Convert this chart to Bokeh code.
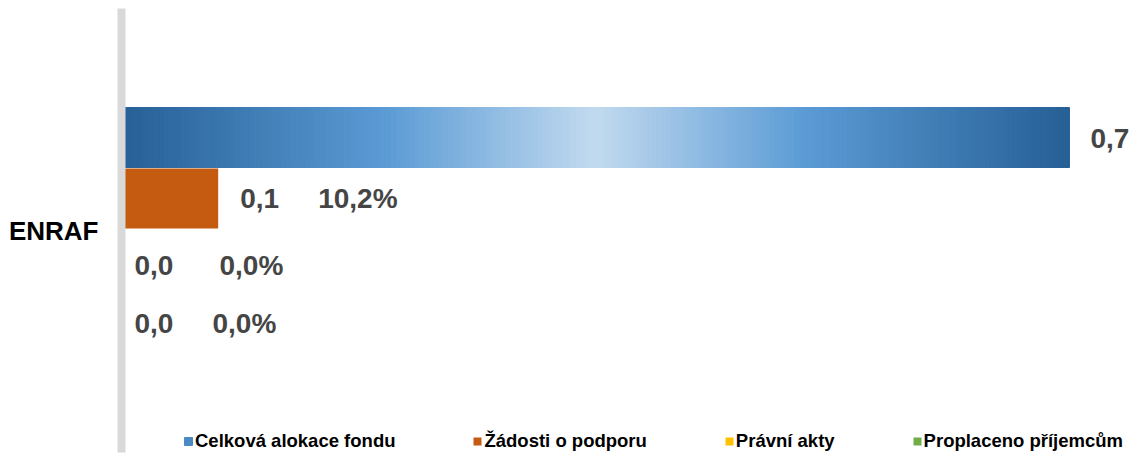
import numpy as np
from bokeh.plotting import figure
from bokeh.models import ColumnDataSource, FactorRange, Range1d, Legend, LegendItem
from bokeh.transform import dodge
from bokeh.core.properties import value as pval
from bokeh.embed import file_html
from bokeh.resources import INLINE

# ---------------- data ----------------
categories = ["ENRAF"]
series_names = ["Celková alokace fondu", "Žádosti o podporu", "Právní akty", "Proplaceno příjemcům"]
series_values = [0.70, 0.0714, 0.0, 0.0]
series_colors = ["#5b9bd5", "#c55a11", "#ffc000", "#70ad47"]

value_labels = [f"{v:.1f}".replace(".", ",") for v in series_values]
pct_labels = [None] + [f"{v / series_values[0] * 100:.1f}%".replace(".", ",") for v in series_values[1:]]

# ---------------- style / layout ----------------
FONT = pval("Liberation Sans")
FRAME_H = 444  # frame from y=8 to y=452
unit = 1.0 / FRAME_H
step = 61 * unit
bar_h = 60 * unit
center_shift = 1.5 * unit
offsets = [center_shift + k * step for k in (1.5, 0.5, -0.5, -1.5)]
val_dx = [21, 22, 13, 13]
val_dy = [1, 0, 6, 3]
pct_dx = [0, 100, 98, 91]
label_color = "#454545"

grad_stops = [(0.0, "#265f96"), (0.28, "#5b9bd5"), (0.5, "#c2daef"), (0.72, "#5b9bd5"), (1.0, "#265f96")]


def hex2rgb(h):
    h = h.lstrip("#")
    return np.array([int(h[i:i + 2], 16) for i in (0, 2, 4)], dtype=float)


def grad_color(t):
    for (t0, c0), (t1, c1) in zip(grad_stops[:-1], grad_stops[1:]):
        if t0 <= t <= t1:
            f = (t - t0) / (t1 - t0) if t1 > t0 else 0
            c = hex2rgb(c0) * (1 - f) + hex2rgb(c1) * f
            return "#%02x%02x%02x" % tuple(int(round(x)) for x in c)
    return grad_stops[-1][1]


p = figure(
    width=1136, height=456,
    x_range=Range1d(0, 0.7495),
    y_range=FactorRange(*categories, range_padding=0),
    x_axis_location=None,
    output_backend="svg", toolbar_location=None,
    min_border_left=121, min_border_right=0, min_border_top=8, min_border_bottom=4,
)
p.outline_line_color = None
p.xgrid.visible = False
p.ygrid.visible = False
p.background_fill_color = "white"
p.border_fill_color = "white"

renderers = []

# Blue gradient bar (split into slices along the value)
N = 200
v0 = series_values[0]
edges = np.linspace(0, v0, N + 1)
grad_src = ColumnDataSource(dict(
    cat=[categories[0]] * N,
    left=edges[:-1],
    right=edges[1:],
    color=[grad_color((i + 0.5) / N) for i in range(N)],
))
r0 = p.hbar(y=dodge("cat", offsets[0], range=p.y_range), left="left", right="right", height=bar_h,
            fill_color="color", line_color="color", line_width=1, source=grad_src)
renderers.append(r0)

for i in range(1, 4):
    src = ColumnDataSource(dict(cat=categories, val=[series_values[i]]))
    r = p.hbar(y=dodge("cat", offsets[i], range=p.y_range), left=0, right="val", height=bar_h,
               fill_color=series_colors[i], line_color=None, source=src)
    renderers.append(r)

# Labels
for i in range(4):
    src = ColumnDataSource(dict(cat=categories, val=[series_values[i]], lab=[value_labels[i]]))
    p.text(x="val", y=dodge("cat", offsets[i], range=p.y_range), text="lab", source=src,
           text_font=FONT, text_font_style="bold", text_font_size="28px", text_color=label_color,
           text_align="left", text_baseline="middle", x_offset=val_dx[i], y_offset=val_dy[i])
    if pct_labels[i] is not None:
        src2 = ColumnDataSource(dict(cat=categories, val=[series_values[i]], lab=[pct_labels[i]]))
        p.text(x="val", y=dodge("cat", offsets[i], range=p.y_range), text="lab", source=src2,
               text_font=FONT, text_font_style="bold", text_font_size="28px", text_color=label_color,
               text_align="left", text_baseline="middle", x_offset=pct_dx[i], y_offset=val_dy[i])

# Axis
ax = p.yaxis[0]
ax.axis_line_color = "#d9d9d9"
ax.axis_line_width = 8
ax.major_tick_line_color = None
ax.minor_tick_line_color = None
ax.major_label_text_font = "Liberation Sans"
ax.major_label_text_font_style = "bold"
ax.major_label_text_font_size = "26px"
ax.major_label_text_color = "black"
ax.major_label_standoff = 17

# Legend
items = [LegendItem(label=series_names[0], renderers=[renderers[0]], index=40)]
for i in range(1, 4):
    items.append(LegendItem(label=series_names[i], renderers=[renderers[i]]))
legend = Legend(items=items, orientation="horizontal", location=(62, 0),
                glyph_width=10, glyph_height=10, label_height=14, label_width=20,
                label_standoff=2, spacing=77, padding=0, margin=0,
                border_line_color=None, background_fill_alpha=0,
                label_text_font="Liberation Sans", label_text_font_style="bold",
                label_text_font_size="18.5px", label_text_color="black")
p.add_layout(legend)

open("out.html", "w").write(file_html(p, INLINE))
